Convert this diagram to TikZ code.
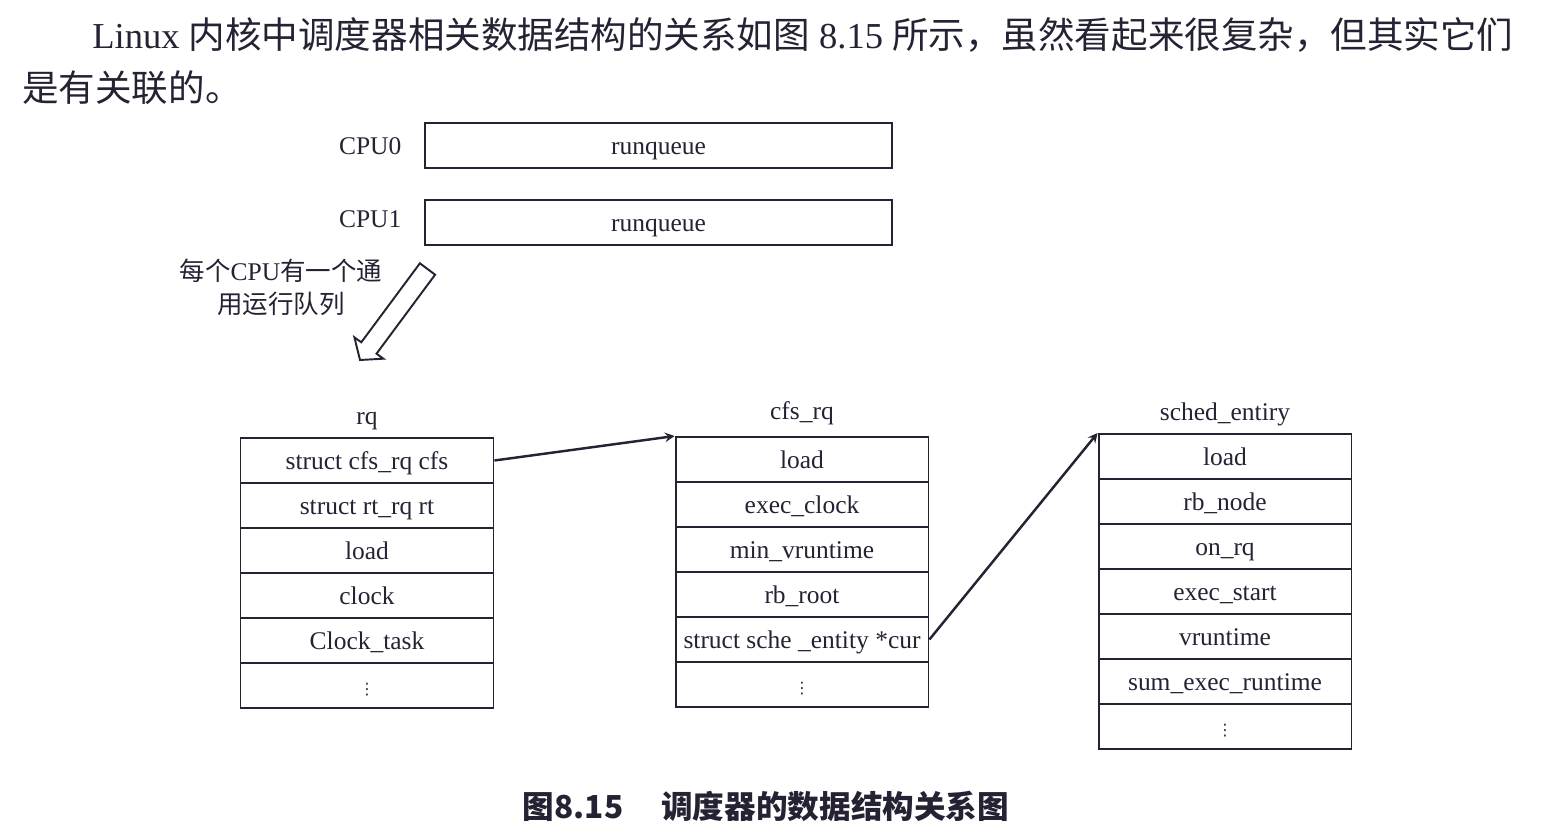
\documentclass[tikz,border=0pt]{standalone}
\usepackage{fontspec}
\setmainfont{Liberation Serif}
\newfontfamily\cjk{Noto Sans CJK SC}
\newfontfamily\sym{DejaVu Sans}
\newcommand{\zh}[1]{{\cjk #1}}
\newcommand{\more}{{\sym\fontsize{9}{9}\selectfont ⋮}}
\usepackage{tikz}
\usetikzlibrary{arrows, positioning}
\definecolor{ink}{RGB}{38,34,52}
\tikzstyle{field} = [rectangle, minimum width=5.06cm, minimum height=0.9cm, text height=11.5pt, text depth=1.5pt, text centered, draw=ink, line width=1.1pt]
\tikzstyle{queue} = [rectangle, minimum width=9.34cm, minimum height=0.9cm, text height=11.5pt, text depth=1.5pt, text centered, draw=ink, line width=1.1pt]
\tikzstyle{heading} = [text height=11.5pt, text depth=1.5pt]
\tikzstyle{para} = [anchor=west, inner sep=0pt, font=\fontsize{20.8}{24}\selectfont]
\tikzstyle{arrow} = [line width=1.4pt,->,>=stealth, draw=ink]

\begin{document}
\begin{tikzpicture}[x=0.02cm, y=-0.02cm, node distance=0.9cm, every node/.style={font=\fontsize{14.5}{17}\selectfont, text=ink}]
    \useasboundingbox (0,0) rectangle (1548,837);

    \node (line1) [para] at (92,35) {Linux \zh{内核中调度器相关数据结构的关系如图} 8.15 \zh{所示，虽然看起来很复杂，但其实它们}};
    \node (line2) [para] at (22,88) {\zh{是有关联的。}};

    \node (q0) [queue] at (658.5,145.5) {runqueue};
    \node (q1) [queue, below of=q0, yshift=-0.64cm] {runqueue};
    \node (cpu0) [heading, left=0.33cm of q0] {CPU0};
    \node (cpu1) [heading, left=0.33cm of q1, yshift=0.08cm] {CPU1};

    \node (hint) [align=center, font=\fontsize{14.5}{18.7}\selectfont] at (281,287) {\zh{每个}CPU\zh{有一个通}\\\zh{用运行队列}};
    \draw [line width=1.1pt, draw=ink] (360,360) -- (383.4,358.7) -- (376.5,353.7) -- (435.1,274.7)
        -- (419.9,263.3) -- (361.3,342.3) -- (354.4,337.3) -- cycle;

    \node (rq1) [field] at (367,460.5) {struct cfs\_rq cfs};
    \node (rq2) [field, below of=rq1] {struct rt\_rq rt};
    \node (rq3) [field, below of=rq2] {load};
    \node (rq4) [field, below of=rq3] {clock};
    \node (rq5) [field, below of=rq4] {Clock\_task};
    \node (rq6) [field, below of=rq5] {\more};
    \node (rqname) [heading, above of=rq1] {rq};

    \node (cfs1) [field] at (802,459.5) {load};
    \node (cfs2) [field, below of=cfs1] {exec\_clock};
    \node (cfs3) [field, below of=cfs2] {min\_vruntime};
    \node (cfs4) [field, below of=cfs3] {rb\_root};
    \node (cfs5) [field, below of=cfs4] {struct sche \_entity *cur};
    \node (cfs6) [field, below of=cfs5] {\more};
    \node (cfsname) [heading, above of=cfs1, yshift=0.08cm] {cfs\_rq};

    \node (se1) [field] at (1225,456.5) {load};
    \node (se2) [field, below of=se1] {rb\_node};
    \node (se3) [field, below of=se2] {on\_rq};
    \node (se4) [field, below of=se3] {exec\_start};
    \node (se5) [field, below of=se4] {vruntime};
    \node (se6) [field, below of=se5] {sum\_exec\_runtime};
    \node (se7) [field, below of=se6] {\more};
    \node (sename) [heading, above of=se1] {sched\_entiry};

    \draw [arrow] (rq1.east) -- (cfs1.north west);
    \draw [arrow] (cfs5.east) -- (se1.north west);

    \node (caption) [font={\cjk\bfseries\fontsize{18}{20}\selectfont}] at (766,806) {图8.15\hspace{1.2em}调度器的数据结构关系图};
\end{tikzpicture}
\end{document}
